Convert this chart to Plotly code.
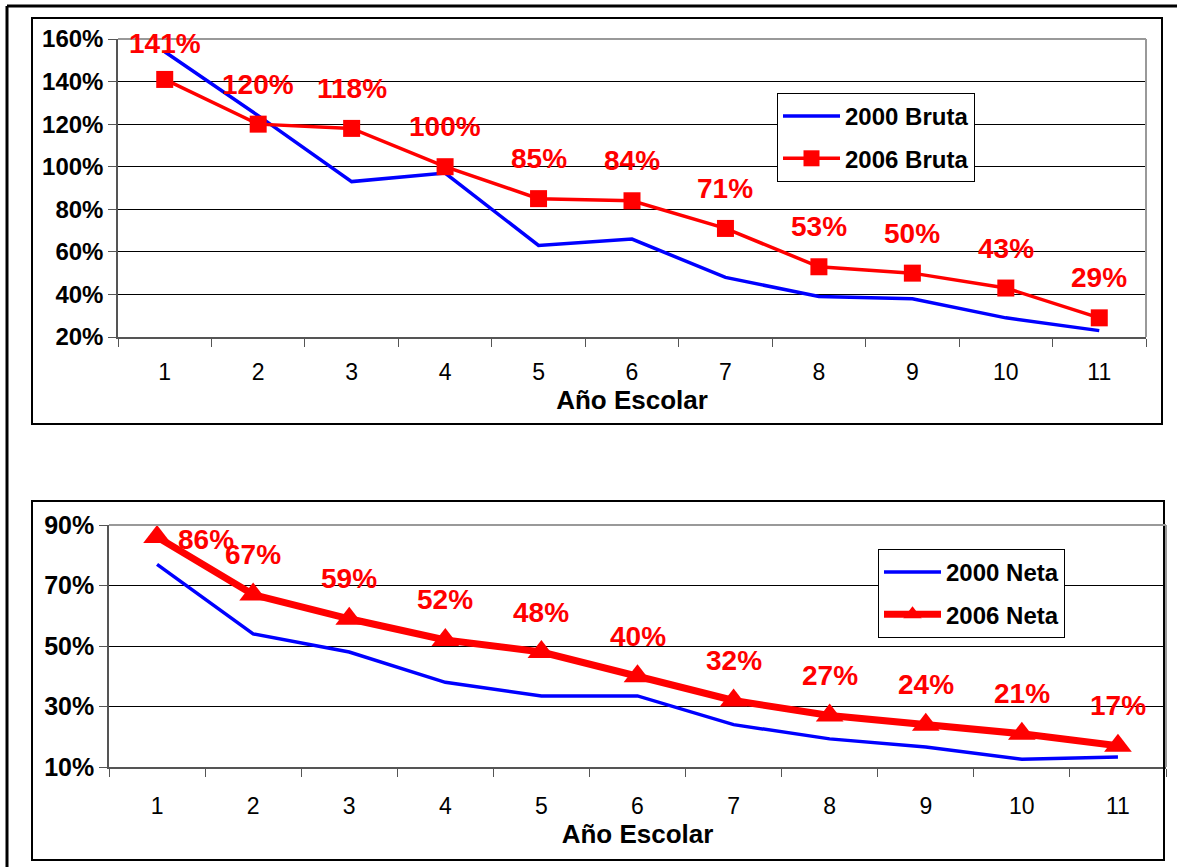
import plotly.graph_objects as go

W, H = 1177, 867
FONT = "Liberation Sans, Arial, sans-serif"

grades = ["1", "2", "3", "4", "5", "6", "7", "8", "9", "10", "11"]
bruta_2000 = [154, 124, 93, 97, 63, 66, 48, 39, 38, 29, 23]
bruta_2006 = [141, 120, 118, 100, 85, 84, 71, 53, 50, 43, 29]
neta_2000 = [77, 54, 48, 38, 33.5, 33.5, 24, 19.3, 16.6, 12.6, 13.3]
neta_2006 = [86, 67, 59, 52, 48, 40, 32, 27, 24, 21, 17]
ticks_top = [20, 40, 60, 80, 100, 120, 140, 160]
ticks_bot = [10, 30, 50, 70, 90]
x_title = "Año Escolar"


def px(x):
    return x / W


def py(y):
    return 1 - y / H


fig = go.Figure()

fig.add_trace(go.Scatter(x=grades, y=bruta_2000, name="2000 Bruta", mode="lines",
                         line=dict(color="#0000FF", width=3.5), xaxis="x", yaxis="y",
                         legend="legend", legendgroup="a"))
fig.add_trace(go.Scatter(x=grades, y=bruta_2006, name="2006 Bruta", mode="lines+markers",
                         line=dict(color="#FF0000", width=3.5),
                         marker=dict(symbol="square", size=17, color="#FF0000"),
                         xaxis="x", yaxis="y", legend="legend", legendgroup="b"))
fig.add_trace(go.Scatter(x=grades, y=neta_2000, name="2000 Neta", mode="lines",
                         line=dict(color="#0000FF", width=3.5), xaxis="x2", yaxis="y2",
                         legend="legend2", legendgroup="c"))
fig.add_trace(go.Scatter(x=grades, y=neta_2006, name="2006 Neta", mode="lines+markers",
                         line=dict(color="#FF0000", width=7),
                         marker=dict(symbol="triangle-up", size=24, color="#FF0000"),
                         xaxis="x2", yaxis="y2", legend="legend2", legendgroup="d"))

annotations = []
for i, v in enumerate(bruta_2006):
    annotations.append(dict(x=i, y=v, xref="x", yref="y", text=f"<b>{v}%</b>",
                            showarrow=False, yshift=40 if i else 36,
                            font=dict(family=FONT, size=28, color="#FF0000")))
for i, v in enumerate(neta_2006):
    annotations.append(dict(x=i, y=v, xref="x2", yref="y2", text=f"<b>{v}%</b>",
                            showarrow=False, yshift=40 if i else -2,
                            xshift=0 if i else 49,
                            font=dict(family=FONT, size=28, color="#FF0000")))

axis_common = dict(
    showline=True, linecolor="#555555", linewidth=1.5,
    ticks="outside", ticklen=8, tickcolor="#555555", automargin=False,
)

shapes = [
    # outer frame
    dict(type="line", xref="paper", yref="paper", x0=px(7), x1=px(1177), y0=py(6), y1=py(6),
         line=dict(color="black", width=3)),
    dict(type="line", xref="paper", yref="paper", x0=px(7), x1=px(7), y0=py(6), y1=py(867),
         line=dict(color="black", width=3)),
    # chart boxes
    dict(type="rect", xref="paper", yref="paper", x0=px(32), x1=px(1162), y0=py(18), y1=py(424),
         line=dict(color="black", width=2)),
    dict(type="rect", xref="paper", yref="paper", x0=px(32), x1=px(1164), y0=py(501), y1=py(860),
         line=dict(color="black", width=2)),
    # plot area top/right borders
    dict(type="line", xref="paper", yref="paper", x0=px(118), x1=px(1146), y0=py(39), y1=py(39),
         line=dict(color="#999999", width=2)),
    dict(type="line", xref="paper", yref="paper", x0=px(1146), x1=px(1146), y0=py(39), y1=py(337),
         line=dict(color="#999999", width=2)),
    dict(type="line", xref="paper", yref="paper", x0=px(109), x1=px(1166), y0=py(525), y1=py(525),
         line=dict(color="#999999", width=2)),
    dict(type="line", xref="paper", yref="paper", x0=px(1166), x1=px(1166), y0=py(525), y1=py(767),
         line=dict(color="#999999", width=2)),
]

fig.update_layout(
    width=W, height=H,
    margin=dict(l=0, r=0, t=0, b=0, autoexpand=False),
    paper_bgcolor="white", plot_bgcolor="white",
    font=dict(family=FONT, color="black"),
    showlegend=True,
    xaxis=dict(domain=[px(118), px(1146)], anchor="y", type="category",
               range=[-0.5, 10.5], tickson="boundaries", ticklabelstandoff=14,
               tickfont=dict(size=23), showgrid=False,
               title=dict(text=f"<b>{x_title}</b>", font=dict(size=26), standoff=2),
               **axis_common),
    yaxis=dict(domain=[py(337), py(39)], anchor="x", range=[20, 160],
               tickmode="array", tickvals=ticks_top,
               ticktext=[f"{t}%" for t in ticks_top],
               tickfont=dict(size=24, weight="bold"),
               showgrid=True, gridcolor="#000000", gridwidth=1,
               **axis_common),
    xaxis2=dict(domain=[px(109), px(1166)], anchor="y2", type="category",
                range=[-0.5, 10.5], tickson="boundaries", ticklabelstandoff=18,
                tickfont=dict(size=23), showgrid=False,
                title=dict(text=f"<b>{x_title}</b>", font=dict(size=26), standoff=2),
                **axis_common),
    yaxis2=dict(domain=[py(767), py(525)], anchor="x2", range=[10, 90],
                tickmode="array", tickvals=ticks_bot,
                ticktext=[f"{t}%" for t in ticks_bot],
                tickfont=dict(size=25, weight="bold"),
                showgrid=True, gridcolor="#000000", gridwidth=1,
                **axis_common),
    legend=dict(x=px(777), y=py(93), xanchor="left", yanchor="top",
                bgcolor="white", bordercolor="black", borderwidth=1,
                font=dict(size=24, weight="bold"), itemwidth=57, tracegroupgap=8),
    legend2=dict(x=px(878), y=py(549), xanchor="left", yanchor="top",
                 bgcolor="white", bordercolor="black", borderwidth=1,
                 font=dict(size=24, weight="bold"), itemwidth=57, tracegroupgap=8),
    annotations=annotations,
    shapes=shapes,
)

fig.write_html("out.html", config={"displayModeBar": False},
               post_script="document.body.style.margin='0';")
